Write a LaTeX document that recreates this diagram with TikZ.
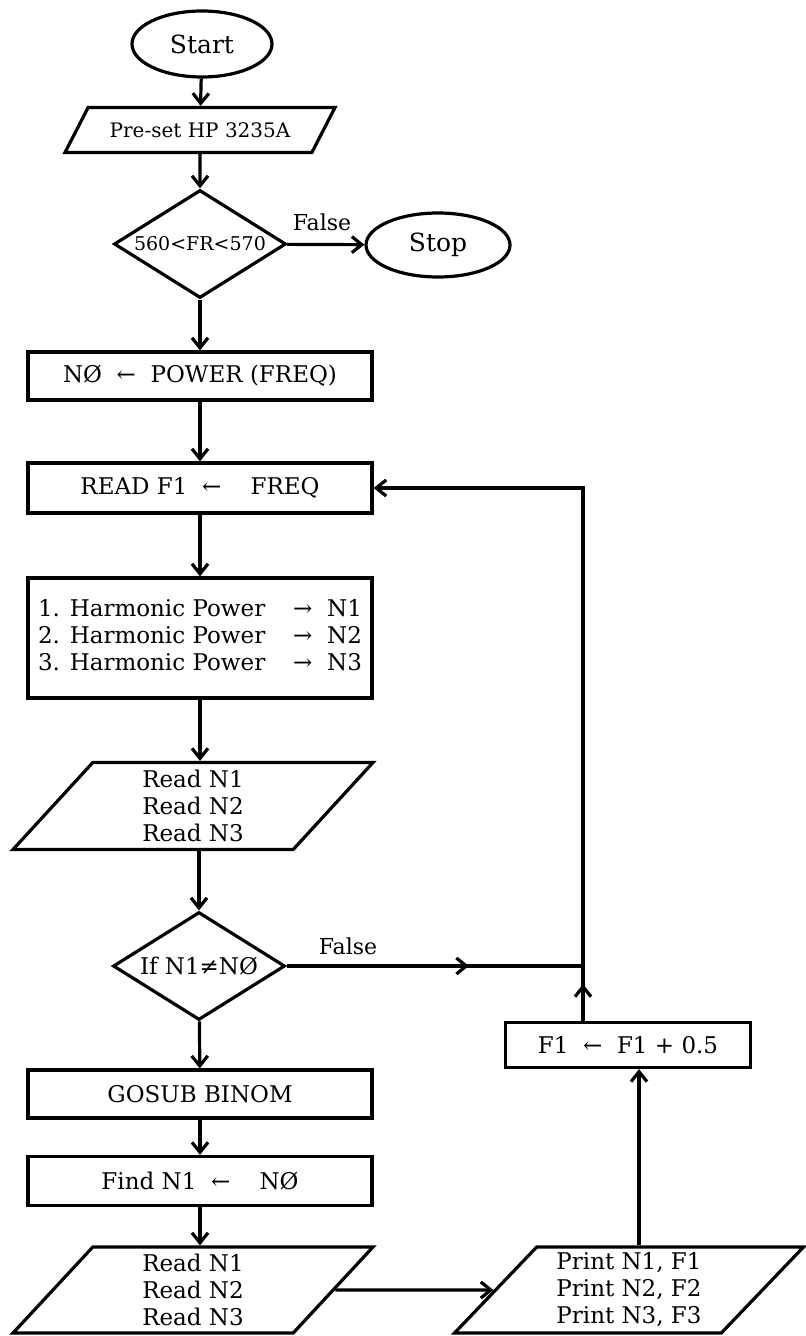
\documentclass[tikz,border=0pt]{standalone}
\usepackage{fontspec}
\setmainfont{DejaVu Serif}
\usetikzlibrary{shapes.geometric,arrows.meta,decorations.markings}
\begin{document}
\begin{tikzpicture}[
    x=0.5pt, y=-0.5pt,
    line width=1.6pt,
    every node/.style={
        font=\fontsize{11.5}{13.5}\selectfont,
        inner sep=2pt,
    },
    term/.style={ellipse, draw, minimum width=70pt, minimum height=33pt,
        font=\fontsize{12.5}{14}\selectfont},
    proc/.style={rectangle, draw, minimum width=172pt, minimum height=24pt},
    test/.style={diamond, draw, aspect=1.6, minimum width=86pt,
        minimum height=54pt, inner sep=0pt},
    io/.style={trapezium, draw, trapezium left angle=45,
        trapezium right angle=135, trapezium stretches body, align=center},
    arr/.style={-{Straight Barb[length=5pt,width=8pt]}},
    midarr/.style={postaction={decorate}, decoration={markings,
        mark=at position #1 with {\arrow{Straight Barb[length=5pt,width=8pt]}}}},
    lbl/.style={font=\fontsize{11}{13}\selectfont},
    ]
    \useasboundingbox (0,0) rectangle (806,1336);
    \node[term] (start) at (202,44) {Start};
    \node[io, minimum width=135pt, minimum height=22.5pt,
        font=\fontsize{10}{12}\selectfont] (preset) at (200,130) {Pre-set HP 3235A};
    \node[test, font=\fontsize{9.5}{11}\selectfont] (rng) at (200,244) {560<FR<570};
    \node[term, minimum width=72pt, minimum height=32pt] (stop) at (438,245) {Stop};
    \node[lbl] (falsea) at (322,222) {False};
    \node[proc] (nzero) at (200,376) {NØ\ \ ←\ \ POWER (FREQ)};
    \node[proc, minimum height=25pt] (readf) at (200,488) {READ F1\ \ ←\ \ \ \ FREQ};
    \node[proc, minimum height=60pt] (hpow) at (200,638) {%
        \begin{tabular}{@{}l@{\hspace{14pt}}l@{}}
        1. Harmonic Power & →\ \ N1\\
        2. Harmonic Power & →\ \ N2\\
        3. Harmonic Power & →\ \ N3
        \end{tabular}};
    \node[io, minimum width=180pt, minimum height=43.5pt] (readn) at (193,806)
        {Read\ N1\\Read\ N2\\Read\ N3};
    \node[test] (ifn) at (199,966) {If\ N1≠NØ};
    \node[lbl] (falseb) at (348,946) {False};
    \coordinate (jn) at (583,966);
    \node[proc, minimum width=122.5pt, minimum height=22.5pt] (incbox) at (628,1045)
        {F1\ \ ←\ \ F1 + 0.5};
    \node[proc] (gosub) at (200,1094) {GOSUB BINOM};
    \node[proc, minimum height=24.5pt] (findn) at (200,1181) {Find N1\ \ ←\ \ \ \ NØ};
    \node[io, minimum width=180pt, minimum height=43pt] (readm) at (193,1290)
        {Read N1\\Read N2\\Read N3};
    \node[io, minimum width=174.5pt, minimum height=43pt] (prnt) at (629,1290)
        {Print N1, F1\\Print N2, F2\\Print N3, F3};
    \draw[arr] (start) -- (preset);
    \draw[arr] (preset) -- (rng);
    \draw[arr] (rng) -- (stop);
    \draw[arr] (rng) -- (nzero);
    \draw[arr] (nzero) -- (readf);
    \draw[arr] (readf) -- (hpow);
    \draw[arr] (hpow.south) -- (hpow.south |- readn.north);
    \draw[arr] (readn.south -| ifn) -- (ifn);
    \draw[midarr=0.615] (ifn) -- (jn);
    \draw[arr] (jn) |- (readf.east);
    \draw[midarr=0.67] (incbox.north -| jn) -- (jn);
    \draw[arr] (ifn) -- (gosub);
    \draw[arr] (gosub) -- (findn);
    \draw[arr] (findn.south) -- (findn.south |- readm.north);
    \draw[arr] (readm) -- (prnt);
    \draw[arr] ([xshift=5pt]prnt.north) -- ([xshift=5pt]prnt.north |- incbox.south);
\end{tikzpicture}
\end{document}
